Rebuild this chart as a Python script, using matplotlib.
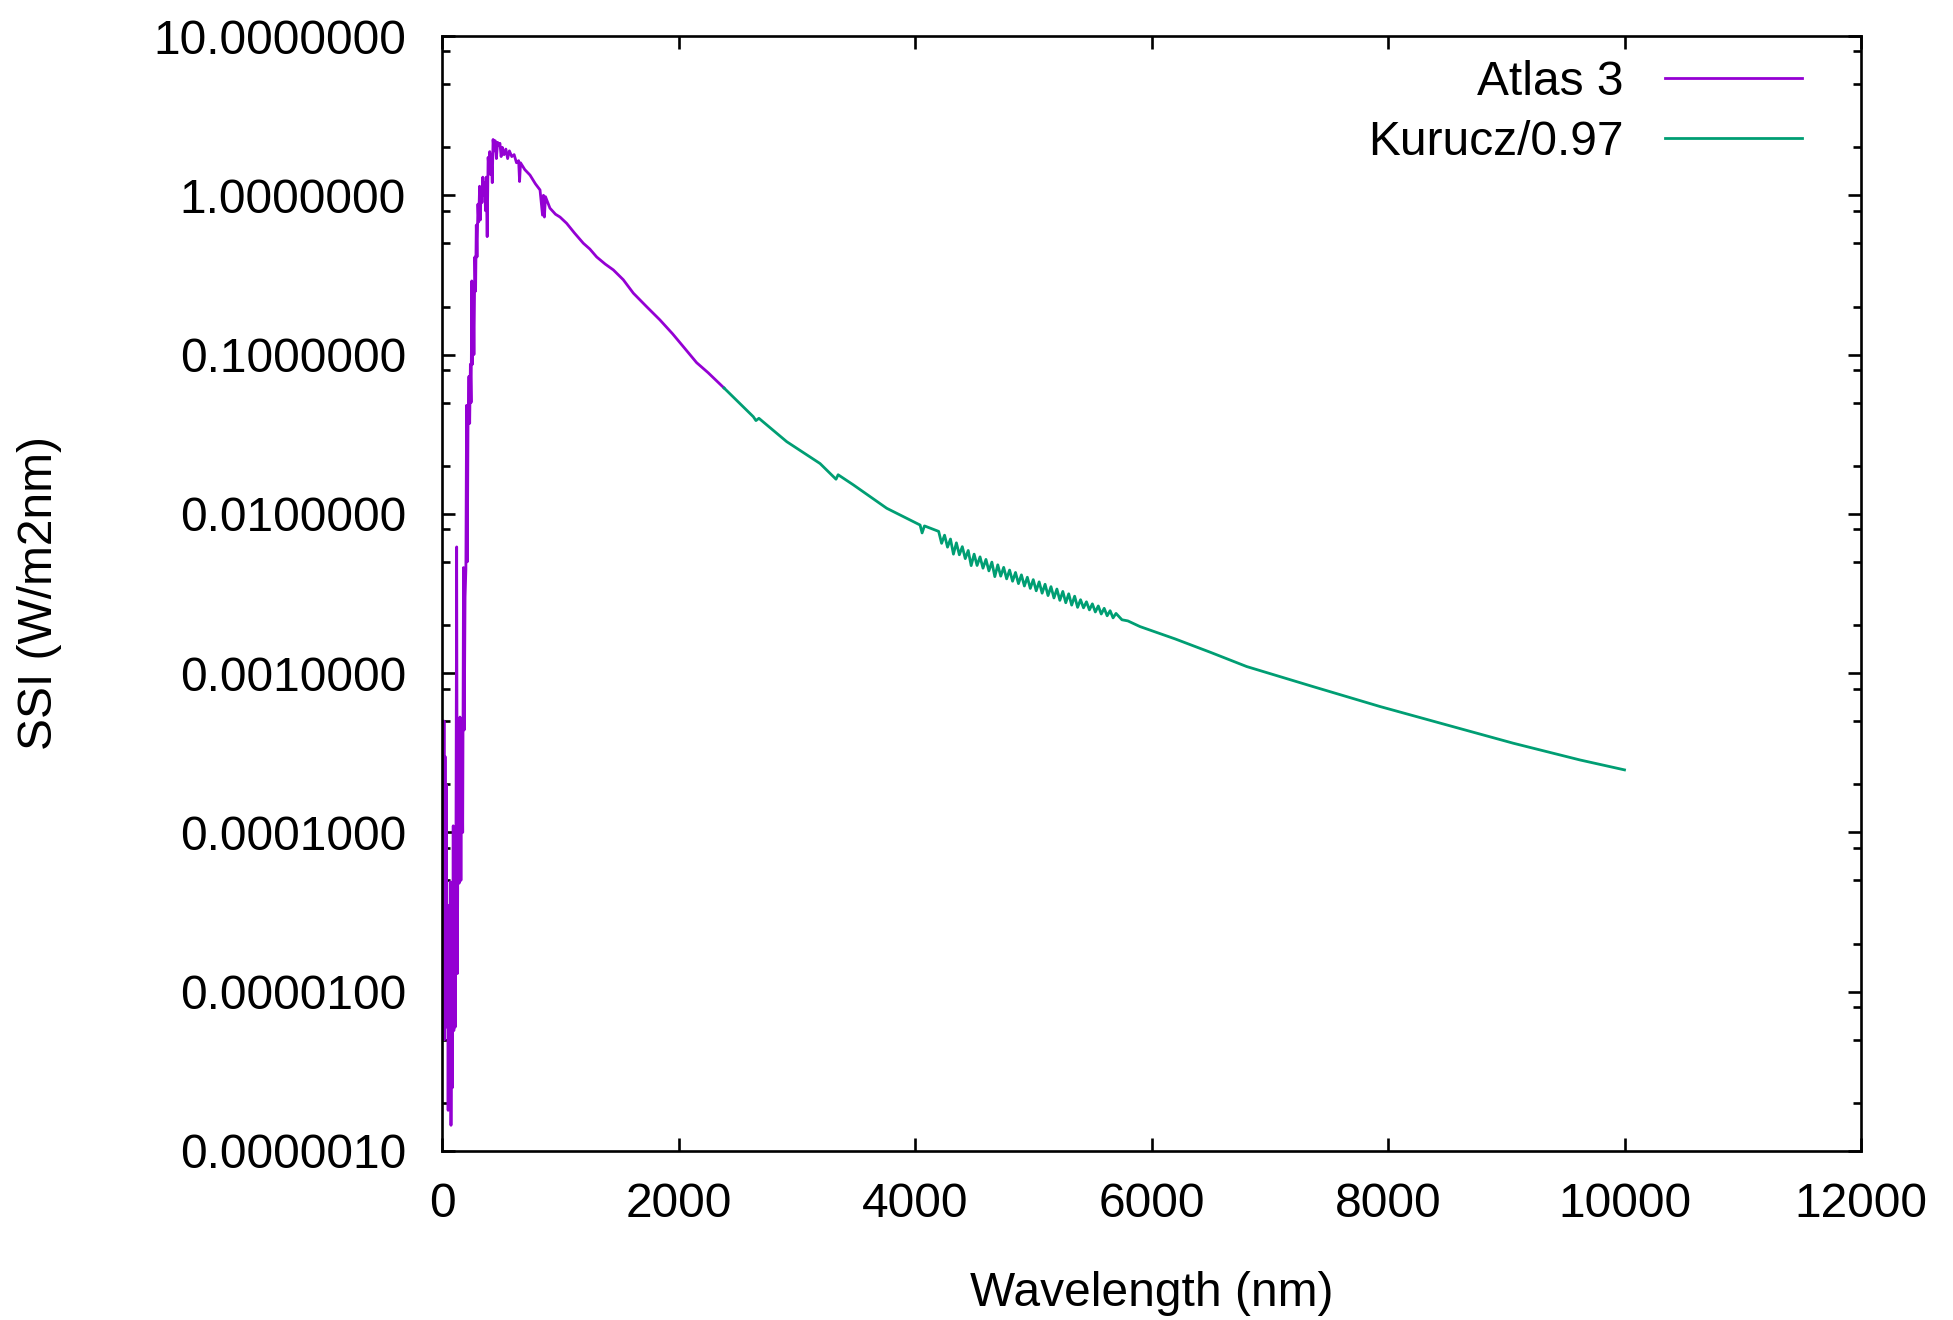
import matplotlib
matplotlib.use('Agg')
import matplotlib.pyplot as plt
from matplotlib.ticker import LogLocator, FormatStrFormatter, NullLocator

# Atlas 3 spectrum (nm, W/m2nm)
atlas_wl = [0.5, 4, 8, 12, 17, 21, 26, 30, 35, 40, 47, 52, 58, 63, 70, 76, 82, 88,
            95, 100, 106, 112, 118, 124, 130, 138, 145, 152, 160, 168, 175, 182, 188,
            195, 202, 208, 214, 220, 228, 234, 240, 246, 252, 258, 264, 270, 278, 284,
            290, 296, 304, 310, 318, 324, 330, 338, 345, 352, 360, 368, 374, 382, 390,
            396, 404, 410, 416, 425, 432, 440, 450, 460, 470, 480, 490, 500, 510, 525,
            540, 555, 570, 590, 610, 630, 648, 656, 664, 700, 744, 790, 829, 850, 858,
            866, 875, 913, 960, 998, 1054, 1120, 1195, 1250, 1308, 1380, 1449, 1533,
            1618, 1730, 1843, 1950, 2050, 2153, 2250, 2385]
atlas_ssi = [5.0e-4, 5.0e-6, 4.0e-4, 6.0e-6, 5.0e-4, 5.0e-6, 3.0e-4, 8.0e-6, 2.0e-4,
             6.0e-6, 3.5e-5, 1.8e-6, 3.0e-5, 2.0e-6, 4.9e-5, 1.45e-6, 1.3e-5, 2.5e-6,
             1.1e-4, 5.7e-6, 1.0e-4, 6.0e-6, 8.0e-5, 6.2e-3, 1.3e-5, 5.0e-4, 4.8e-5,
             5.3e-4, 5.0e-5, 4.5e-4, 1.0e-4, 4.6e-3, 4.4e-4, 3.0e-3, 4.5e-3, 4.8e-2,
             5.0e-3, 3.7e-2, 7.3e-2, 3.7e-2, 8.7e-2, 5.0e-2, 0.29, 8.7e-2, 0.25, 0.10,
             0.41, 0.25, 0.65, 0.41, 0.88, 0.68, 1.14, 0.70, 1.10, 0.90, 1.30, 1.00,
             1.20, 0.80, 1.30, 0.55, 1.73, 1.50, 1.88, 1.35, 1.80, 1.20, 2.24, 1.90,
             2.20, 1.70, 2.15, 2.05, 2.12, 1.75, 2.00, 1.80, 1.95, 1.70, 1.90, 1.75,
             1.80, 1.60, 1.65, 1.22, 1.60, 1.45, 1.34, 1.18, 1.08, 0.75, 1.00, 0.73,
             0.98, 0.83, 0.76, 0.73, 0.667, 0.58, 0.50, 0.46, 0.41, 0.37, 0.34, 0.295,
             0.243, 0.20, 0.165, 0.135, 0.11, 0.089, 0.077, 0.0617]

# Kurucz spectrum divided by 0.97
kurucz_wl = [2385, 2633, 2655, 2680, 2915, 3197, 3332, 3350, 3479, 3761, 4043, 4060,
             4080,
             4200, 4225, 4250, 4275, 4300, 4325, 4350, 4375, 4400, 4425, 4450, 4475,
             4500, 4525, 4550, 4575, 4600, 4625, 4650, 4675, 4700, 4725, 4750, 4775,
             4800, 4825, 4850, 4875, 4900, 4925, 4950, 4975, 5000, 5025, 5050, 5075,
             5100, 5125, 5150, 5175, 5200, 5225, 5250, 5275, 5300, 5325, 5350, 5375,
             5400, 5425, 5450, 5475, 5500, 5525, 5550, 5575, 5600, 5625, 5650, 5675,
             5700, 5750, 5800,
             5903, 6200, 6500, 6805, 7369, 7933, 8497, 9060, 9624, 10000]
kurucz_ssi = [0.0617, 0.0407, 0.0385, 0.0398, 0.0284, 0.0207, 0.0165, 0.0176, 0.0152,
              0.01084, 0.00851, 0.00759, 0.00840,
              7.762e-3, 6.531e-3, 7.345e-3, 6.180e-3, 6.950e-3, 5.585e-3, 6.577e-3,
              5.534e-3, 6.223e-3, 5.236e-3, 5.888e-3, 4.732e-3, 5.585e-3, 4.742e-3,
              5.370e-3, 4.560e-3, 5.176e-3, 4.385e-3, 4.977e-3, 4.036e-3, 4.786e-3,
              4.064e-3, 4.613e-3, 3.908e-3, 4.436e-3, 3.776e-3, 4.285e-3, 3.648e-3,
              4.140e-3, 3.524e-3, 4.000e-3, 3.404e-3, 3.864e-3, 3.289e-3, 3.741e-3,
              3.177e-3, 3.614e-3, 3.069e-3, 3.491e-3, 2.965e-3, 3.373e-3, 2.864e-3,
              3.258e-3, 2.767e-3, 3.148e-3, 2.673e-3, 3.041e-3, 2.588e-3, 2.891e-3,
              2.570e-3, 2.805e-3, 2.495e-3, 2.723e-3, 2.421e-3, 2.642e-3, 2.350e-3,
              2.553e-3, 2.291e-3, 2.466e-3, 2.223e-3, 2.371e-3, 2.163e-3, 2.128e-3,
              1.96e-3, 1.64e-3, 1.35e-3, 1.10e-3, 8.22e-4, 6.17e-4, 4.73e-4, 3.63e-4,
              2.85e-4, 2.47e-4]

xticks = [0, 2000, 4000, 6000, 8000, 10000, 12000]

plt.rcParams['font.family'] = ['Liberation Sans', 'DejaVu Sans']
plt.rcParams['font.size'] = 34.5

fig = plt.figure(figsize=(19.53, 13.2), dpi=100)
ax = fig.add_axes([442 / 1953, 1 - 1151 / 1320, 1419 / 1953, 1115 / 1320])

ax.plot(atlas_wl, atlas_ssi, color='#9400d3', lw=2, label='Atlas 3')
ax.plot(kurucz_wl, kurucz_ssi, color='#009e73', lw=2, label='Kurucz/0.97')

ax.set_yscale('log')
ax.set_xlim(0, 12000)
ax.set_ylim(1e-6, 10)
ax.set_xticks(xticks)
ax.xaxis.set_minor_locator(NullLocator())
ax.yaxis.set_major_locator(LogLocator(base=10, numticks=20))
ax.yaxis.set_minor_locator(LogLocator(base=10, subs=[2, 5, 8], numticks=20))
ax.yaxis.set_major_formatter(FormatStrFormatter('%.7f'))

for s in ax.spines.values():
    s.set_linewidth(1.9)
ax.tick_params(which='both', direction='in', top=True, right=True, width=1.9)
ax.tick_params(which='major', length=9.5)
ax.tick_params(which='minor', length=5.8)
ax.tick_params(axis='y', pad=26)
ax.tick_params(axis='x', pad=22)

ax.set_xlabel('Wavelength (nm)')
ax.set_ylabel('SSI (W/m2nm)')
ax.xaxis.label.set_va('center')
ax.yaxis.label.set_va('center')
ax.xaxis.set_label_coords(0.5, (1151 - 1293) / 1115)
ax.yaxis.set_label_coords((40 - 442) / 1419, 0.5)

ax.legend(loc='upper right', bbox_to_anchor=((1802 - 442) / 1419, (1151 - 60) / 1115),
          frameon=False, markerfirst=False, borderaxespad=0, borderpad=0,
          handlelength=2.85, handletextpad=0.875, labelspacing=0.31)

plt.savefig('out.png', dpi=100)
